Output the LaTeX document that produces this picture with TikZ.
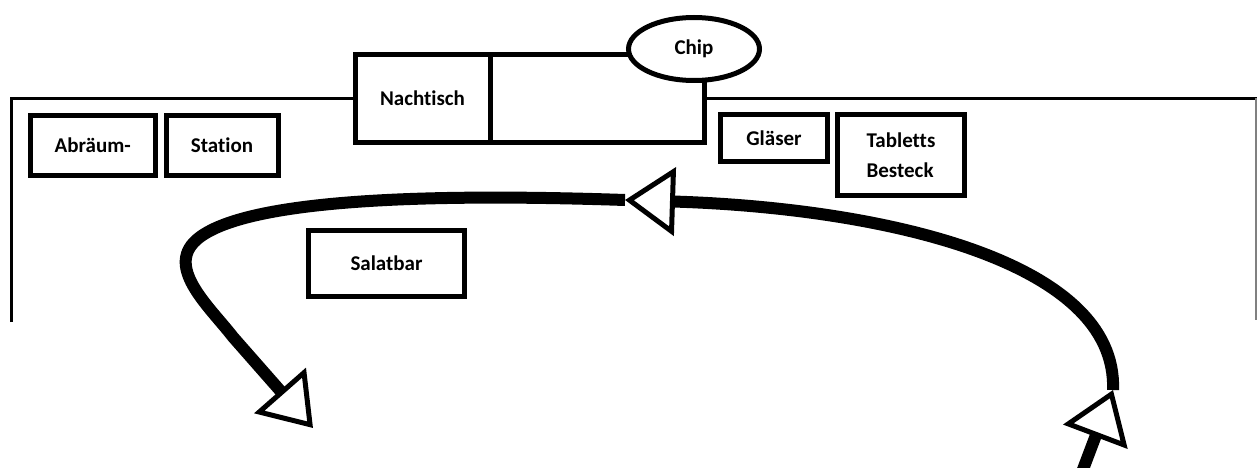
\documentclass[tikz,border=0pt]{standalone}
\usepackage{fontspec}
\setmainfont{Carlito}[Ligatures=NoCommon]
\usetikzlibrary{arrows.meta,shapes.geometric}

\begin{document}
\begin{tikzpicture}[x=1pt,y=-1pt,
  box/.style={draw,line width=5pt,inner sep=0pt,align=left,
    font=\fontsize{21}{30}\selectfont\bfseries},
  wall/.style={line width=3pt},
  flow/.style={line width=12pt,-{Triangle[open,length=50pt,width=68pt,line width=5pt]}}]
\useasboundingbox (0,0) rectangle (1257,468);

% Raum
\node[box,minimum width=135pt,minimum height=87pt] (nacht) at (422.5,98.5) {Nachtisch};
\node[box,minimum width=214pt,minimum height=87pt] (ablage) at (597,98.5) {};
\draw[wall] (11,322) -- (11,98.5) -- (nacht.west);
\draw[wall] (ablage.east) -- (1257,98.5);
\draw[line width=1.5pt,gray] (1256,98.5) -- (1256,320);

\node[box,ellipse,fill=white,minimum width=131pt,minimum height=63pt] (chip) at (694,49) {Chip};

% Stationen
\node[box,minimum width=124.5pt,minimum height=59.5pt] (abraeum) at (92.75,145.25) {Abräum-};
\node[box,minimum width=112pt,minimum height=59.5pt] (station) at (222,145.25) {Station};
\node[box,minimum width=107pt,minimum height=47pt] (glaeser) at (774,138) {Gläser};
\node[box,minimum width=127pt,minimum height=81pt] (tabletts) at (901,155) {Tabletts\\Besteck};
\node[box,minimum width=156pt,minimum height=66pt] (salatbar) at (386.5,263.5) {Salatbar};

% Laufweg
\coordinate (zugang) at (1079,480);
\coordinate (wendeA) at (1113,390);
\coordinate (wendeB) at (625,200);
\coordinate (ausgang) at (313,428);
\draw[flow] (zugang) -- (wendeA);
\draw[flow] (wendeA) .. controls (1118,260) and (880,208) .. (wendeB);
\draw[flow] (wendeB) .. controls (420,193) and (250,200) .. (200,237)
  .. controls (162,265) and (209,306) .. (233,337) -- (ausgang);

\end{tikzpicture}
\end{document}
